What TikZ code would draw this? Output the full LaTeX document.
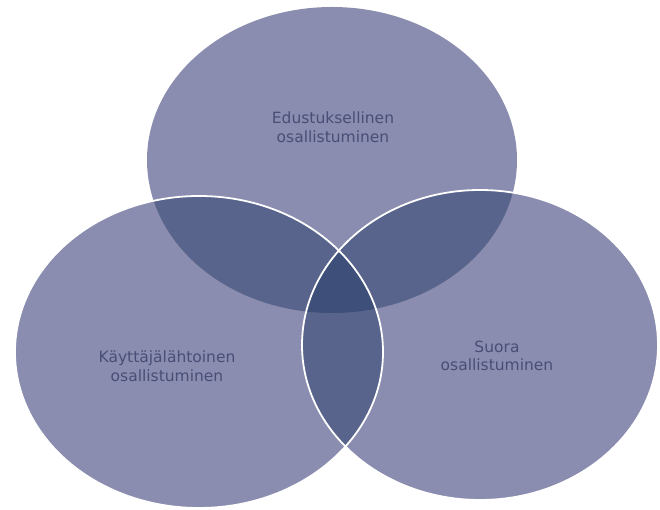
\documentclass[tikz,border=0pt]{standalone}
\usepackage{fontspec}
\setmainfont{DejaVu Sans}
\definecolor{one}{RGB}{138,141,175}
\definecolor{two}{RGB}{88,100,140}
\definecolor{three}{RGB}{62,80,122}
\definecolor{txt}{RGB}{72,78,118}
\tikzset{
  lbl/.style={text=txt, align=center, font=\fontsize{15.5}{18.5}\selectfont},
  rim/.style={draw=white, line width=1.8pt}
}
\newcommand{\topE}{(332,350) ellipse [x radius=185, y radius=153]}
\newcommand{\leftE}{(199,158) ellipse [x radius=184, y radius=156]}
\newcommand{\rightE}{(480,165) ellipse [x radius=178, y radius=155]}
\begin{document}
\begin{tikzpicture}[x=1pt,y=1pt]
\useasboundingbox (0,0) rectangle (660,510);
\fill[one] \topE;
\fill[one] \leftE;
\fill[one] \rightE;
\begin{scope}
  \clip \topE;
  \fill[two] \leftE;
  \fill[two] \rightE;
\end{scope}
\begin{scope}
  \clip \leftE;
  \fill[two] \rightE;
\end{scope}
\begin{scope}
  \clip \topE;
  \clip \leftE;
  \fill[three] \rightE;
\end{scope}
\draw[rim] \leftE;
\draw[rim] \rightE;
\node[lbl] (top) at (333,383) {Edustuksellinen\\osallistuminen};
\node[lbl] (left) at (167,144) {Käyttäjälähtoinen\\osallistuminen};
\node[lbl] (right) at (497,154) {Suora\\osallistuminen};
\end{tikzpicture}
\end{document}
